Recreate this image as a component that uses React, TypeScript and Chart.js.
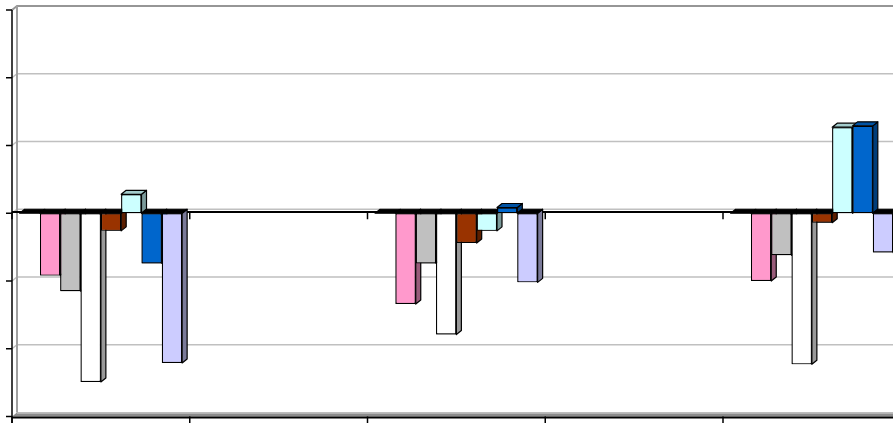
import React, { useEffect, useRef } from "react";
import { Chart, registerables } from "chart.js";

Chart.register(...registerables);

// ---- data ----
const categories = ["1", "2", "3", "4", "5"];
const yTicks = [-3, -2, -1, 0, 1, 2, 3];
const seriesZero = [0, null, 0, null, 0];
const seriesPink = [-0.92, null, -1.34, null, -1.0];
const seriesGrey = [-1.15, null, -0.74, null, -0.62];
const seriesWhite = [-2.49, null, -1.79, null, -2.23];
const seriesBrown = [-0.26, null, -0.44, null, -0.14];
const seriesCyan = [0.28, null, -0.26, null, 1.27];
const seriesBlue = [-0.74, null, 0.085, null, 1.29];
const seriesLavender = [-2.21, null, -1.02, null, -0.58];

// ---- style ----
const seriesList = [seriesZero, seriesPink, seriesGrey, seriesWhite, seriesBrown, seriesCyan, seriesBlue, seriesLavender];
const seriesColors = ["#9999FF", "#FF99CC", "#C0C0C0", "#FFFFFF", "#993300", "#CCFFFF", "#0066CC", "#CCCCFF"];
const DX = 5;
const DY = 4;
const LEFT = 12;
const CAT_W = 177.75;
const CANVAS_W = 920;
const CANVAS_H = 423;

function shade(hex: string, f: number): string {
  const n = parseInt(hex.slice(1), 16);
  const r = Math.round(((n >> 16) & 255) * f);
  const g = Math.round(((n >> 8) & 255) * f);
  const b = Math.round((n & 255) * f);
  return `rgb(${r},${g},${b})`;
}

function boundaries(chart: any): number[] {
  const xs = chart.scales.x;
  const c0 = xs.getPixelForValue(0);
  const cw = xs.getPixelForValue(1) - c0;
  const out: number[] = [];
  for (let k = 0; k <= categories.length; k++) out.push(c0 - cw / 2 + k * cw);
  return out;
}

const excel3d = {
  id: "excel3d",
  beforeDatasetsDraw(chart: any) {
    const { ctx, chartArea, scales } = chart;
    const ys = scales.y;
    const front = chartArea.left;
    const wallX = front + DX;
    const right = chart.width;
    const yTop = ys.getPixelForValue(yTicks[yTicks.length - 1]);
    const yb = ys.getPixelForValue(yTicks[0]);
    ctx.save();
    // floor
    ctx.fillStyle = "#8c8c8c";
    ctx.beginPath();
    ctx.moveTo(front, yb);
    ctx.lineTo(wallX, yb - DY);
    ctx.lineTo(right, yb - DY);
    ctx.lineTo(right, yb);
    ctx.closePath();
    ctx.fill();
    ctx.fillStyle = "#b4b4b4";
    ctx.fillRect(wallX, yb - DY, right - wallX, 1.5);
    // gridlines on back wall
    for (const v of yTicks) {
      const py = ys.getPixelForValue(v);
      if (v === yTicks[0]) continue;
      const isTop = v === yTicks[yTicks.length - 1];
      ctx.strokeStyle = isTop ? "#969696" : "#c0c0c0";
      ctx.lineWidth = isTop ? 2 : 1.5;
      ctx.beginPath();
      ctx.moveTo(front, py);
      ctx.lineTo(wallX, py - DY);
      ctx.lineTo(right, py - DY);
      ctx.stroke();
    }
    // wall left edge
    ctx.strokeStyle = "#a0a0a0";
    ctx.lineWidth = 2;
    ctx.beginPath();
    ctx.moveTo(wallX, yTop - DY);
    ctx.lineTo(wallX, yb - DY);
    ctx.stroke();
    // zero front line (category axis)
    const y0 = ys.getPixelForValue(0);
    ctx.strokeStyle = "#000";
    ctx.lineWidth = 2;
    ctx.beginPath();
    ctx.moveTo(front, y0 - 1.2);
    ctx.lineTo(right, y0 - 1.2);
    ctx.stroke();
    ctx.lineWidth = 1.5;
    for (const bx of boundaries(chart)) {
      ctx.beginPath();
      ctx.moveTo(bx, y0 - 1);
      ctx.lineTo(bx, y0 + 6);
      ctx.stroke();
    }
    ctx.restore();
  },
  afterDatasetsDraw(chart: any) {
    const { ctx, chartArea, scales } = chart;
    // redraw bars in left-to-right order with their 3D faces
    ctx.save();
    for (let di = 0; di < chart.data.datasets.length; di++) {
      const meta = chart.getDatasetMeta(di);
      const ds = chart.data.datasets[di];
      const color = seriesColors[di];
      meta.data.forEach((bar: any, i: number) => {
        const v = ds.data[i];
        if (v === null || v === undefined) return;
        if (v !== 0) bar.draw(ctx);
        const p = bar.getProps(["x", "y", "base", "width"], true);
        const l = p.x - p.width / 2;
        const r = p.x + p.width / 2;
        const top = Math.min(p.y, p.base);
        const bot = Math.max(p.y, p.base);
        ctx.strokeStyle = "#000";
        ctx.lineWidth = 1.2;
        ctx.lineJoin = "round";
        if (v !== 0) {
          ctx.fillStyle = shade(color, 0.6);
          ctx.beginPath();
          ctx.moveTo(r, top);
          ctx.lineTo(r + DX, top - DY);
          ctx.lineTo(r + DX, bot - DY);
          ctx.lineTo(r, bot);
          ctx.closePath();
          ctx.fill();
          ctx.stroke();
        }
        ctx.fillStyle = v <= 0 ? "#000" : shade(color, 0.8);
        ctx.beginPath();
        ctx.moveTo(l, top);
        ctx.lineTo(l + DX, top - DY);
        ctx.lineTo(r + DX, top - DY);
        ctx.lineTo(r, top);
        ctx.closePath();
        ctx.fill();
        ctx.stroke();
      });
    }
    ctx.restore();

    const ys = scales.y;
    const front = chartArea.left;
    const right = chart.width;
    const yTop = ys.getPixelForValue(yTicks[yTicks.length - 1]);
    const yb = ys.getPixelForValue(yTicks[0]);
    ctx.save();
    ctx.strokeStyle = "#000";
    ctx.lineWidth = 1.5;
    ctx.beginPath();
    ctx.moveTo(front, yTop);
    ctx.lineTo(front, CANVAS_H);
    ctx.stroke();
    for (const v of yTicks) {
      const py = ys.getPixelForValue(v);
      ctx.beginPath();
      ctx.moveTo(front - 6, py);
      ctx.lineTo(front, py);
      ctx.stroke();
    }
    ctx.lineWidth = 2;
    ctx.beginPath();
    ctx.moveTo(front, yb + 1);
    ctx.lineTo(right, yb + 1);
    ctx.stroke();
    ctx.lineWidth = 1.5;
    for (const bx of boundaries(chart)) {
      ctx.beginPath();
      ctx.moveTo(bx, yb);
      ctx.lineTo(bx, CANVAS_H);
      ctx.stroke();
    }
    ctx.restore();
  },
};

export default function App() {
  const ref = useRef<HTMLCanvasElement | null>(null);
  useEffect(() => {
    if (!ref.current) return;
    const chart = new Chart(ref.current, {
      type: "bar",
      data: {
        labels: categories,
        datasets: seriesList.map((s, i) => ({
          label: `S${i + 1}`,
          data: s,
          backgroundColor: seriesColors[i],
          borderColor: "#000",
          borderWidth: 1.2,
          borderSkipped: false,
          categoryPercentage: 8 / 8.75,
          barPercentage: 1.0,
        })),
      },
      options: {
        responsive: false,
        animation: false,
        devicePixelRatio: 1,
        layout: { padding: { left: LEFT, right: CANVAS_W - LEFT - CAT_W * categories.length, top: 10, bottom: 6.5 } },
        plugins: { legend: { display: false }, tooltip: { enabled: false }, title: { display: false } },
        scales: {
          x: { display: false },
          y: { display: false, min: yTicks[0], max: yTicks[yTicks.length - 1] },
        },
      },
      plugins: [excel3d],
    });
    return () => chart.destroy();
  }, []);
  return (
    <div style={{ position: "absolute", left: 0, top: 0, width: 893, height: 423, overflow: "hidden", background: "#fff" }}>
      <canvas ref={ref} width={CANVAS_W} height={CANVAS_H} style={{ width: CANVAS_W, height: CANVAS_H, display: "block" }} />
    </div>
  );
}
